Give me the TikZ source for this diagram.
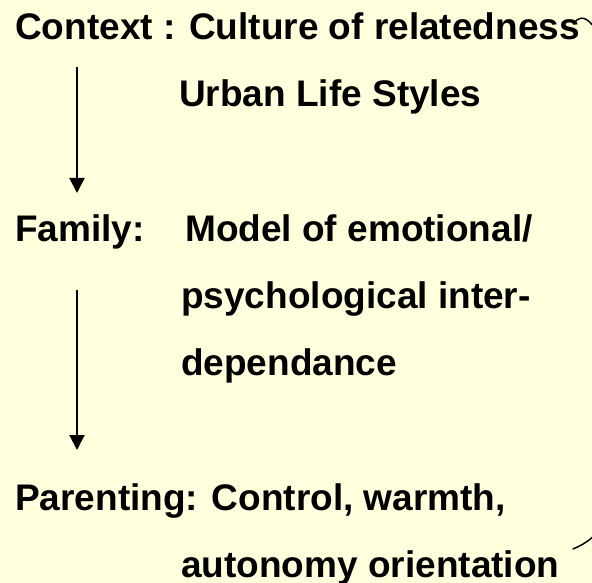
\documentclass[tikz,border=0pt]{standalone}
\usepackage{fontspec}
\setmainfont{Liberation Sans}
\usetikzlibrary{arrows.meta}
\definecolor{bgyellow}{RGB}{255,255,221}
\begin{document}
\begin{tikzpicture}[x=1pt,y=-1pt,
  txt/.style={anchor=base west,inner sep=0pt,font=\fontsize{37}{44}\selectfont\bfseries},
  flow/.style={line width=2pt,-{Triangle[width=15pt,length=15pt]}},
  bracket/.style={line width=1.5pt,line cap=round}]
\fill[bgyellow] (0,0) rectangle (592,583);
\useasboundingbox (0,0) rectangle (592,583);
\node[txt] (ctx) at (15,40) {Context : Culture of relatedness};
\node[txt] (urb) at (179,107) {Urban Life Styles};
\node[txt] (fam) at (15,241) {Family:};
\node[txt] (mod) at (185,241) {Model of emotional/};
\node[txt] (psy) at (181,308) {psychological inter-};
\node[txt] (dep) at (181,375) {dependance};
\node[txt] (par) at (15,510) {Parenting: Control, warmth,};
\node[txt] (aut) at (181,577) {autonomy orientation};
\coordinate (a1s) at (77,67);
\coordinate (a1e) at (77,193);
\coordinate (a2s) at (77,290);
\coordinate (a2e) at (77,450);
\draw[flow] (a1s) -- (a1e);
\draw[flow] (a2s) -- (a2e);
\coordinate (b1s) at (575,22);
\coordinate (b1e) at (596,30);
\coordinate (b2s) at (573,549);
\coordinate (b2e) at (596,534);
\draw[bracket] (b1s) .. controls (580,16) and (587,16) .. (b1e);
\draw[bracket] (b2s) .. controls (580,546) and (588,542) .. (b2e);
\end{tikzpicture}
\end{document}
